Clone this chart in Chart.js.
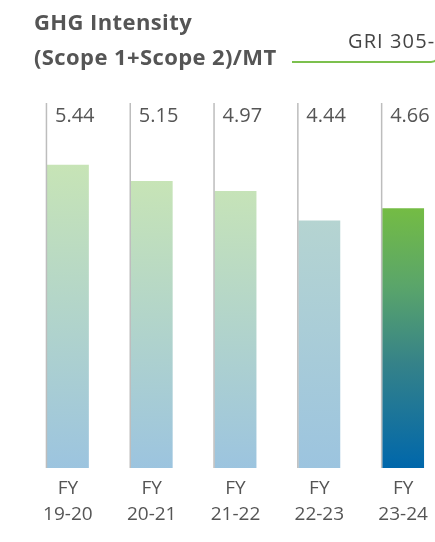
<!DOCTYPE html>
<html>
<head>
<meta charset="utf-8">
<script src="https://cdn.jsdelivr.net/npm/chart.js@4"></script>
<style>
    html, body { margin: 0; padding: 0; background: #fff; overflow: hidden; width: 435px; height: 542px; }
    #wrap { position: relative; width: 470px; height: 542px; }
    #title { position: absolute; left: 34px; top: 4px; font-family: "Open Sans", sans-serif; font-weight: 700; font-size: 22px; letter-spacing: 0.4px; line-height: 35px; color: #555; }
    #gri { position: absolute; left: 292px; top: 37px; width: 146px; height: 24px; border-bottom: 2px solid #7cc04e; border-right: 2px solid #7cc04e; border-bottom-right-radius: 9px; }
    #gri span { position: absolute; left: 56px; top: -10px; font-family: "Open Sans", sans-serif; font-size: 20px; letter-spacing: 1.1px; color: #444; white-space: nowrap; }
    canvas { position: absolute; left: 0; top: 0; }
</style>
</head>
<body>
<div id="wrap">
    <canvas id="ghgChart" width="470" height="542"></canvas>
    <div id="title">GHG Intensity<br>(Scope 1+Scope 2)/MT</div>
    <div id="gri"><span>GRI 305-4</span></div>
</div>
<script>
// 데이터
const years = ['19-20', '20-21', '21-22', '22-23', '23-24'];
const intensity = [5.44, 5.15, 4.97, 4.44, 4.66];

// 막대 색상 (위 -> 아래 그라데이션)
const topColors = ['#c7e4b6', '#c7e4b6', '#c6e3b8', '#b5d4d1', '#74bc44'];
const bottomColors = ['#9cc4df', '#9cc4df', '#9cc4df', '#9cc4df', '#0067ab'];

function barGradient(context) {
    const chart = context.chart;
    const { ctx, chartArea, scales } = chart;
    if (!chartArea) return topColors[context.dataIndex];
    const i = context.dataIndex;
    const yTop = scales.y.getPixelForValue(intensity[i]);
    const yBottom = scales.y.getPixelForValue(0);
    const g = ctx.createLinearGradient(0, yTop, 0, yBottom);
    g.addColorStop(0, topColors[i]);
    if (i === 4) {
        g.addColorStop(0.3, '#5aa56a');
        g.addColorStop(0.6, '#358289');
    }
    g.addColorStop(1, bottomColors[i]);
    return g;
}

// 막대 왼쪽 세로선과 값 라벨
const markerPlugin = {
    id: 'markers',
    afterDatasetsDraw(chart) {
        const { ctx, chartArea } = chart;
        const meta = chart.getDatasetMeta(0);
        ctx.save();
        meta.data.forEach((bar, i) => {
            const left = bar.x - bar.width / 2;
            ctx.strokeStyle = '#bdbdbd';
            ctx.lineWidth = 1.5;
            ctx.beginPath();
            ctx.moveTo(left - 0.5, chartArea.top);
            ctx.lineTo(left - 0.5, bar.base);
            ctx.stroke();
            ctx.fillStyle = '#555';
            ctx.font = '20px "Open Sans", sans-serif';
            ctx.textBaseline = 'middle';
            ctx.textAlign = 'left';
            ctx.fillText(intensity[i].toFixed(2), left + 8, chartArea.top + 13);
        });
        ctx.restore();
    }
};

const ctx = document.getElementById('ghgChart').getContext('2d');
const chart = new Chart(ctx, {
    type: 'bar',
    data: {
        labels: years.map(y => ['FY', y]),
        datasets: [{
            data: intensity,
            backgroundColor: barGradient,
            borderWidth: 0,
            categoryPercentage: 1,
            barPercentage: 0.5
        }]
    },
    options: {
        responsive: false,
        animation: false,
        layout: { padding: { top: 103, left: 26, right: 25, bottom: 14 } },
        plugins: { legend: { display: false }, tooltip: { enabled: false } },
        scales: {
            x: {
                grid: { display: false },
                border: { display: false },
                ticks: {
                    color: '#555',
                    padding: 0,
                    maxRotation: 0,
                    font: { family: '"Open Sans", sans-serif', size: 19, lineHeight: 1.37 }
                }
            },
            y: {
                display: false,
                min: 0,
                max: 6.55
            }
        }
    },
    plugins: [markerPlugin]
});
</script>
</body>
</html>
